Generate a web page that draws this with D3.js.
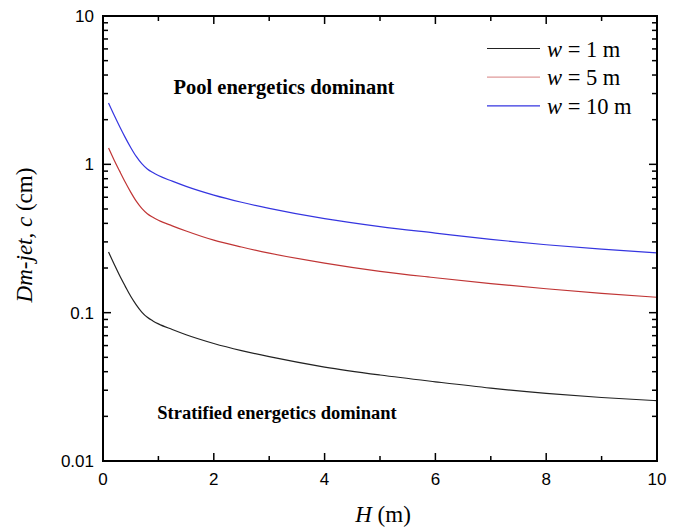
<!DOCTYPE html>
<html><head><meta charset="utf-8">
<script src="https://cdn.jsdelivr.net/npm/d3@7"></script>
<style>body{margin:0;background:#fff}svg{display:block}</style>
</head><body>
<svg id="c" width="685" height="529"></svg>
<script>
const H = [0.1,0.2,0.3,0.4,0.5,0.6,0.7,0.8,0.9,1.0,1.25,1.5,2,2.5,3,4,5,6,7,8,9,10];
const w1  = [0.256,0.213,0.178,0.151,0.129,0.113,0.101,0.093,0.088,0.084,0.077,0.071,0.062,0.0555,0.0505,0.043,0.038,0.0342,0.031,0.0286,0.0268,0.0255];
const w5  = [1.29,1.07,0.90,0.76,0.65,0.565,0.505,0.465,0.44,0.42,0.385,0.355,0.308,0.277,0.252,0.216,0.19,0.172,0.157,0.145,0.135,0.127];
const w10 = [2.59,2.15,1.80,1.52,1.30,1.13,1.01,0.93,0.88,0.84,0.77,0.71,0.62,0.555,0.505,0.43,0.38,0.344,0.312,0.287,0.268,0.253];
const seriesNames = ["1","5","10"];
const seriesColors = ["#222222","#c03535","#3535e0"];
const xTicks = [0,2,4,6,8,10];
const yTicks = [0.01,0.1,1,10];
const yTickLabels = ["0.01","0.1","1","10"];

const svg = d3.select("#c");
const L=103,R=657,T=16,B=461;
const x = d3.scaleLinear().domain([0,10]).range([L,R]);
const y = d3.scaleLog().domain([0.01,10]).range([B,T]);

const g = svg.append("g");
const line = d3.line().x(d=>x(d[0])).y(d=>y(d[1])).curve(d3.curveMonotoneX);
[w1,w5,w10].forEach((s,i)=>{
  g.append("path").datum(H.map((h,j)=>[h,s[j]])).attr("d",line)
   .attr("fill","none").attr("stroke",seriesColors[i]).attr("stroke-width",1.2);
});

const yMinor=[];
[0.01,0.1,1].forEach(d=>{for(let k=2;k<=9;k++) yMinor.push(d*k);});
const xMinor=[1,3,5,7,9];
const tk = svg.append("g").attr("stroke","#000").attr("stroke-width",1.5);
yTicks.forEach(v=>{
  tk.append("line").attr("x1",L).attr("x2",L+8).attr("y1",y(v)).attr("y2",y(v));
  tk.append("line").attr("x1",R).attr("x2",R-8).attr("y1",y(v)).attr("y2",y(v));
});
yMinor.forEach(v=>{
  tk.append("line").attr("x1",L).attr("x2",L+5).attr("y1",y(v)).attr("y2",y(v));
  tk.append("line").attr("x1",R).attr("x2",R-5).attr("y1",y(v)).attr("y2",y(v));
});
xTicks.forEach(v=>{
  tk.append("line").attr("x1",x(v)).attr("x2",x(v)).attr("y1",B).attr("y2",B-8);
  tk.append("line").attr("x1",x(v)).attr("x2",x(v)).attr("y1",T).attr("y2",T+8);
});
xMinor.forEach(v=>{
  tk.append("line").attr("x1",x(v)).attr("x2",x(v)).attr("y1",B).attr("y2",B-5);
  tk.append("line").attr("x1",x(v)).attr("x2",x(v)).attr("y1",T).attr("y2",T+5);
});
svg.append("rect").attr("x",L).attr("y",T).attr("width",R-L).attr("height",B-T)
  .attr("fill","none").attr("stroke","#000").attr("stroke-width",2);

const sans = "Liberation Sans, Arial, sans-serif";
yTicks.forEach((v,i)=>{
  svg.append("text").attr("x",L-9).attr("y",y(v)+6).attr("text-anchor","end")
    .attr("font-family",sans).attr("font-size",17).text(yTickLabels[i]);
});
xTicks.forEach(v=>{
  svg.append("text").attr("x",x(v)).attr("y",B+24).attr("text-anchor","middle")
    .attr("font-family",sans).attr("font-size",17).text(v);
});

const serif = "Liberation Serif, Times New Roman, serif";
const xt = svg.append("text").attr("x",383).attr("y",522).attr("text-anchor","middle")
  .attr("font-family",serif).attr("font-size",23);
xt.append("tspan").attr("font-style","italic").text("H");
xt.append("tspan").text(" (m)");
const yt = svg.append("text").attr("transform","translate(32,235) rotate(-90)")
  .attr("text-anchor","middle").attr("font-family",serif).attr("font-size",23);
yt.append("tspan").attr("font-style","italic").text("Dm-jet, c");
yt.append("tspan").text(" (cm)");

svg.append("text").attr("x",284).attr("y",94).attr("text-anchor","middle")
  .attr("font-family",serif).attr("font-weight","bold").attr("font-size",20.5)
  .text("Pool energetics dominant");
svg.append("text").attr("x",277).attr("y",419).attr("text-anchor","middle")
  .attr("font-family",serif).attr("font-weight","bold").attr("font-size",18.5)
  .text("Stratified energetics dominant");

seriesNames.forEach((n,i)=>{
  const yy = 48.5 + i*28.7;
  svg.append("line").attr("x1",487).attr("x2",540).attr("y1",yy).attr("y2",yy)
    .attr("stroke",seriesColors[i]).attr("stroke-width",1.2)
    .attr("stroke-opacity", i===1 ? 0.5 : 1);
  const t = svg.append("text").attr("x",547).attr("y",yy+8)
    .attr("font-family",serif).attr("font-size",22.5);
  t.append("tspan").attr("font-style","italic").text("w");
  t.append("tspan").text(" = " + n + " m");
});
</script>
</body></html>
